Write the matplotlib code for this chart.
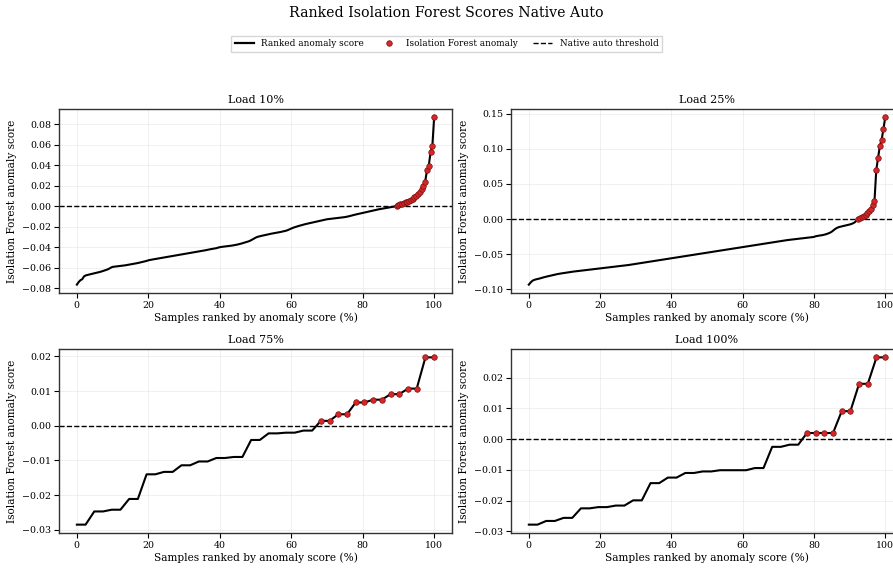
import numpy as np
import matplotlib
matplotlib.use("Agg")
import matplotlib.pyplot as plt
from matplotlib.lines import Line2D
from matplotlib.ticker import MultipleLocator

plt.rcParams["font.family"] = "DejaVu Serif"
plt.rcParams["axes.unicode_minus"] = True

# Ranked anomaly scores per load
load_titles = ["Load 10%", "Load 25%", "Load 75%", "Load 100%"]
y_steps = [0.02, 0.05, 0.01, 0.01]

score_10 = [
    -0.0765, -0.0740, -0.0722, -0.0712, -0.0685, -0.0675, -0.0670, -0.0666, -0.0662, -0.0658,
    -0.0654, -0.0650, -0.0646, -0.0641, -0.0636, -0.0630, -0.0624, -0.0618, -0.0610, -0.0600,
    -0.0592, -0.0590, -0.0588, -0.0586, -0.0584, -0.0582, -0.0580, -0.0577, -0.0574, -0.0571,
    -0.0568, -0.0565, -0.0562, -0.0559, -0.0555, -0.0551, -0.0547, -0.0543, -0.0539, -0.0534,
    -0.0528, -0.0524, -0.0521, -0.0518, -0.0515, -0.0512, -0.0509, -0.0506, -0.0503, -0.0500,
    -0.0497, -0.0494, -0.0491, -0.0488, -0.0485, -0.0481, -0.0478, -0.0475, -0.0472, -0.0469,
    -0.0466, -0.0463, -0.0460, -0.0457, -0.0454, -0.0451, -0.0448, -0.0445, -0.0442, -0.0439,
    -0.0436, -0.0433, -0.0430, -0.0426, -0.0422, -0.0419, -0.0416, -0.0413, -0.0410, -0.0405,
    -0.0400, -0.0397, -0.0395, -0.0393, -0.0391, -0.0389, -0.0387, -0.0384, -0.0381, -0.0378,
    -0.0374, -0.0370, -0.0365, -0.0360, -0.0355, -0.0350, -0.0344, -0.0337, -0.0328, -0.0318,
    -0.0308, -0.0300, -0.0295, -0.0291, -0.0287, -0.0283, -0.0279, -0.0275, -0.0271, -0.0268,
    -0.0265, -0.0262, -0.0259, -0.0256, -0.0252, -0.0248, -0.0244, -0.0240, -0.0234, -0.0226,
    -0.0218, -0.0211, -0.0205, -0.0199, -0.0194, -0.0189, -0.0184, -0.0179, -0.0175, -0.0171,
    -0.0167, -0.0163, -0.0159, -0.0155, -0.0151, -0.0147, -0.0143, -0.0139, -0.0135, -0.0131,
    -0.0128, -0.0126, -0.0124, -0.0122, -0.0120, -0.0118, -0.0116, -0.0114, -0.0112, -0.0110,
    -0.0107, -0.0104, -0.0100, -0.0096, -0.0091, -0.0086, -0.0082, -0.0078, -0.0074, -0.0070,
    -0.0066, -0.0062, -0.0058, -0.0054, -0.0050, -0.0046, -0.0042, -0.0038, -0.0034, -0.0031,
    -0.0028, -0.0025, -0.0022, -0.0019, -0.0016, -0.0013, -0.0010, -0.0007, -0.0003, 0.0004,
    0.0010, 0.0016, 0.0022, 0.0029, 0.0036, 0.0044, 0.0052, 0.0061, 0.0072, 0.0085,
    0.0100, 0.0118, 0.0140, 0.0165, 0.0200, 0.0240, 0.0350, 0.0395, 0.0525, 0.0585,
    0.0865,
]

score_25 = [
    -0.0935, -0.0905, -0.0880, -0.0868, -0.0860, -0.0854, -0.0848, -0.0840, -0.0833, -0.0826,
    -0.0820, -0.0814, -0.0808, -0.0802, -0.0796, -0.0790, -0.0785, -0.0780, -0.0776, -0.0772,
    -0.0768, -0.0764, -0.0760, -0.0756, -0.0752, -0.0749, -0.0746, -0.0743, -0.0740, -0.0737,
    -0.0734, -0.0731, -0.0728, -0.0725, -0.0722, -0.0719, -0.0716, -0.0713, -0.0710, -0.0707,
    -0.0704, -0.0701, -0.0698, -0.0695, -0.0692, -0.0689, -0.0686, -0.0683, -0.0680, -0.0677,
    -0.0674, -0.0671, -0.0668, -0.0665, -0.0662, -0.0659, -0.0655, -0.0651, -0.0647, -0.0643,
    -0.0639, -0.0635, -0.0631, -0.0627, -0.0623, -0.0619, -0.0615, -0.0611, -0.0607, -0.0603,
    -0.0599, -0.0595, -0.0591, -0.0587, -0.0583, -0.0579, -0.0575, -0.0571, -0.0567, -0.0563,
    -0.0559, -0.0555, -0.0551, -0.0547, -0.0543, -0.0539, -0.0535, -0.0531, -0.0527, -0.0523,
    -0.0519, -0.0515, -0.0511, -0.0507, -0.0503, -0.0499, -0.0495, -0.0491, -0.0487, -0.0483,
    -0.0479, -0.0475, -0.0471, -0.0467, -0.0463, -0.0459, -0.0455, -0.0451, -0.0447, -0.0443,
    -0.0439, -0.0435, -0.0431, -0.0427, -0.0423, -0.0419, -0.0415, -0.0411, -0.0407, -0.0403,
    -0.0399, -0.0395, -0.0391, -0.0387, -0.0383, -0.0379, -0.0375, -0.0371, -0.0367, -0.0363,
    -0.0359, -0.0355, -0.0351, -0.0347, -0.0343, -0.0339, -0.0335, -0.0331, -0.0327, -0.0323,
    -0.0319, -0.0315, -0.0311, -0.0307, -0.0303, -0.0300, -0.0297, -0.0294, -0.0291, -0.0288,
    -0.0285, -0.0282, -0.0279, -0.0276, -0.0273, -0.0270, -0.0267, -0.0264, -0.0261, -0.0258,
    -0.0255, -0.0245, -0.0240, -0.0236, -0.0232, -0.0228, -0.0222, -0.0215, -0.0205, -0.0195,
    -0.0180, -0.0160, -0.0140, -0.0125, -0.0115, -0.0108, -0.0102, -0.0096, -0.0090, -0.0084,
    -0.0078, -0.0070, -0.0060, -0.0045, -0.0020, 0.0005, 0.0020, 0.0035, 0.0050, 0.0065,
    0.0085, 0.0110, 0.0150, 0.0200, 0.0260, 0.0700, 0.0870, 0.1040, 0.1130, 0.1280,
    0.1450,
]

score_75 = [
    -0.0285, -0.0285, -0.0247, -0.0247, -0.0242, -0.0242, -0.0211, -0.0211, -0.0140, -0.0140,
    -0.0133, -0.0133, -0.0114, -0.0114, -0.0103, -0.0103, -0.0093, -0.0093, -0.0090, -0.0090,
    -0.0041, -0.0041, -0.0022, -0.0022, -0.0020, -0.0020, -0.0014, -0.0014, 0.0014, 0.0014,
    0.0033, 0.0033, 0.0067, 0.0067, 0.0075, 0.0075, 0.0091, 0.0091, 0.0107, 0.0107,
    0.0197, 0.0197,
]

score_100 = [
    -0.0278, -0.0278, -0.0266, -0.0266, -0.0256, -0.0256, -0.0225, -0.0225, -0.0221, -0.0221,
    -0.0216, -0.0216, -0.0199, -0.0199, -0.0143, -0.0143, -0.0125, -0.0125, -0.0110, -0.0110,
    -0.0105, -0.0105, -0.0101, -0.0101, -0.0101, -0.0101, -0.0094, -0.0094, -0.0025, -0.0025,
    -0.0018, -0.0018, 0.0020, 0.0020, 0.0020, 0.0020, 0.0091, 0.0091, 0.0180, 0.0180,
    0.0266, 0.0266,
]

threshold = 0.0

all_scores = [score_10, score_25, score_75, score_100]

W, H = 893, 568
fig = plt.figure(figsize=(W / 100, H / 100), dpi=100)

# axes boxes in pixels: left, top, right, bottom
boxes = [
    (59, 109, 452, 293),
    (511, 109, 903, 293),
    (59, 349, 452, 533),
    (511, 349, 903, 533),
]

for title, scores, step, (l, t, r, b) in zip(load_titles, all_scores, y_steps, boxes):
    ax = fig.add_axes([l / W, 1 - b / H, (r - l) / W, (b - t) / H])
    y = np.array(scores)
    x = np.linspace(0, 100, len(y))
    anom = y >= threshold

    ax.plot(x, y, color="black", lw=1.5, zorder=2)
    ax.scatter(x[anom], y[anom], s=16, color="#d62728", edgecolor="#7a1010",
               linewidth=0.5, zorder=3)
    ax.axhline(threshold, color="black", ls="--", lw=1.0, zorder=1)

    ax.set_title(title, fontsize=8, pad=4)
    ax.set_xlabel("Samples ranked by anomaly score (%)", fontsize=7.6, labelpad=2)
    ax.set_ylabel("Isolation Forest anomaly score", fontsize=7.6, labelpad=4)
    ax.tick_params(labelsize=6.8, length=3.5, width=0.8, pad=2)
    ax.set_xticks([0, 20, 40, 60, 80, 100])
    ax.yaxis.set_major_locator(MultipleLocator(step))
    ax.grid(True, color="#dddddd", lw=0.5, alpha=0.6)
    ax.set_axisbelow(True)
    for sp in ax.spines.values():
        sp.set_color("#333333")
        sp.set_linewidth(1.0)

fig.suptitle("Ranked Isolation Forest Scores Native Auto", fontsize=10.2, y=1 - 13 / H, va="center")

handles = [
    Line2D([], [], color="black", lw=1.6),
    Line2D([], [], marker="o", ls="none", markersize=4, markerfacecolor="#d62728",
           markeredgecolor="#7a1010", markeredgewidth=0.5),
    Line2D([], [], color="black", ls="--", lw=1.0),
]
labels = ["Ranked anomaly score", "Isolation Forest anomaly", "Native auto threshold"]
fig.legend(handles, labels, loc="center", bbox_to_anchor=(0.5, 1 - 44 / H), ncol=3,
           fontsize=6.4, frameon=True, fancybox=False, edgecolor="#cccccc",
           handlelength=2.2, columnspacing=1.7, borderpad=0.4)

fig.savefig("out.png", dpi=100)
plt.close(fig)
